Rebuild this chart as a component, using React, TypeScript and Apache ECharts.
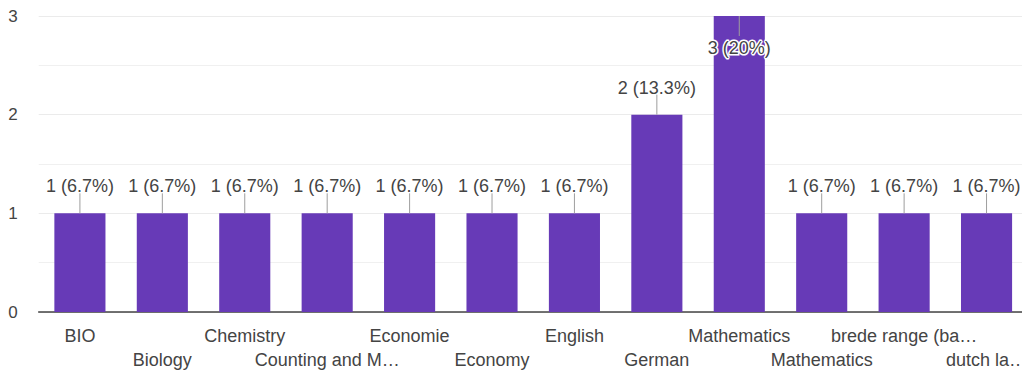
import React, { useEffect, useRef } from "react";
import * as echarts from "echarts";

const categories = [
  "BIO",
  "Biology",
  "Chemistry",
  "Counting and M…",
  "Economie",
  "Economy",
  "English",
  "German",
  "Mathematics",
  "Mathematics",
  "brede range (ba…",
  "dutch la…",
];
const counts = [1, 1, 1, 1, 1, 1, 1, 2, 3, 1, 1, 1];
const totalResponses = 15;
const yTicks = [0, 1, 2, 3];

const FONT = "'Liberation Sans', Arial, sans-serif";

function pctLabel(v: number): string {
  const p = (v / totalResponses) * 100;
  let s = p.toFixed(1);
  if (s.endsWith(".0")) s = s.slice(0, -2);
  return `${v} (${s}%)`;
}

export default function App() {
  const ref = useRef<HTMLDivElement>(null);
  useEffect(() => {
    if (!ref.current) return;
    const chart = echarts.init(ref.current, null, { renderer: "svg" });
    const yMax = yTicks[yTicks.length - 1];
    chart.setOption({
      animation: false,
      grid: { left: 38.7, right: 0.7, top: 16, bottom: 62 },
      xAxis: {
        type: "category",
        data: categories,
        axisTick: { show: false },
        axisLine: { lineStyle: { color: "#444", width: 1.5 } },
        axisLabel: {
          interval: 0,
          color: "#444",
          fontSize: 18,
          fontFamily: FONT,
          lineHeight: 24,
          margin: 12,
          formatter: (val: string, idx: number) => (idx % 2 === 1 ? "\n" + val : val),
        },
      },
      yAxis: {
        type: "value",
        min: yTicks[0],
        max: yMax,
        interval: 1,
        axisLine: { show: false },
        axisTick: { show: false },
        axisLabel: { color: "#444", fontSize: 17, fontFamily: FONT, margin: 21 },
        splitLine: { lineStyle: { color: "#ebebeb", width: 1 } },
        minorTick: { show: false, splitNumber: 2 },
        minorSplitLine: { show: true, lineStyle: { color: "#f0f0f0", width: 1 } },
      },
      series: [
        {
          type: "bar",
          data: counts,
          barCategoryGap: "38%",
          itemStyle: { color: "#673ab7" },
          z: 2,
        },
        {
          type: "custom",
          z: 5,
          clip: false,
          data: counts.map((v, i) => [i, v]),
          encode: { x: 0, y: 1 },
          renderItem: (params: any, api: any) => {
            const v = api.value(1);
            const p = api.coord([api.value(0), v]);
            const atTop = v >= yMax;
            const y1 = atTop ? p[1] : p[1] - 20;
            const y2 = atTop ? p[1] + 20 : p[1];
            const ty = atTop ? p[1] + 32 : p[1] - 27;
            return {
              type: "group",
              children: [
                {
                  type: "line",
                  shape: { x1: p[0], y1, x2: p[0], y2 },
                  style: { stroke: "#9e9e9e", lineWidth: 1 },
                },
                {
                  type: "text",
                  x: p[0],
                  y: ty,
                  style: {
                    text: pctLabel(v),
                    fill: "#444",
                    font: `18px ${FONT}`,
                    align: "center",
                    verticalAlign: "middle",
                    stroke: atTop ? "#fff" : "transparent",
                    lineWidth: atTop ? 3 : 0,
                  },
                },
              ],
            };
          },
        },
      ],
    });
    return () => chart.dispose();
  }, []);
  return (
    <div
      ref={ref}
      style={{ position: "fixed", left: 0, top: 0, width: 1030, height: 374, background: "#fff" }}
    />
  );
}
